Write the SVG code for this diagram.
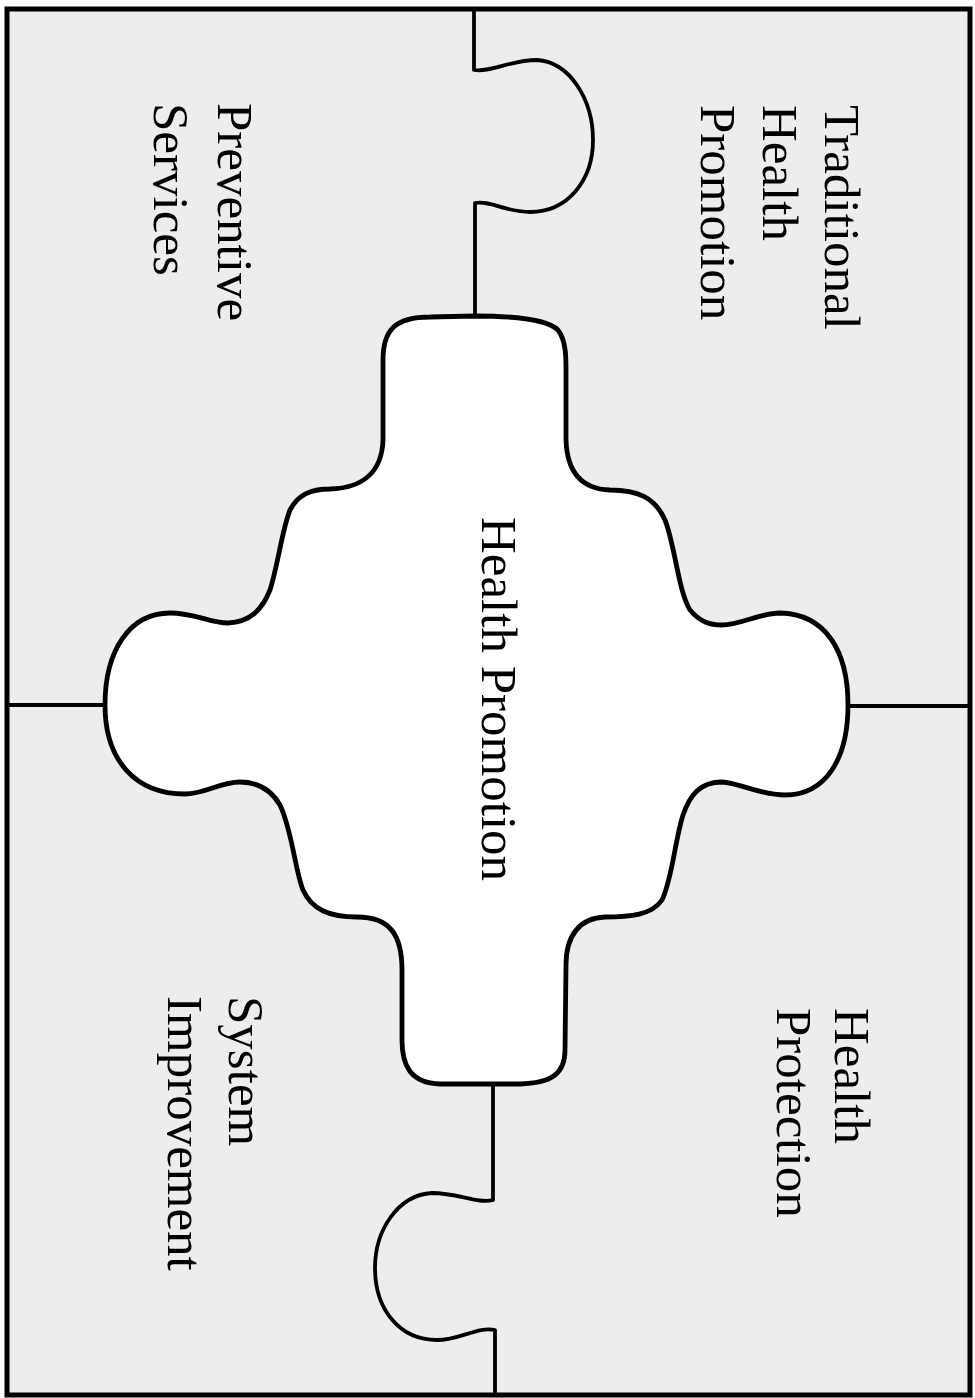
<svg xmlns="http://www.w3.org/2000/svg" width="975" height="1398" viewBox="0 0 975 1398">
  <defs>
    <style>
      .bg { fill: #ededed; }
      .border { fill: none; stroke: #000; stroke-width: 5; }
      .edge { fill: none; stroke: #000; stroke-width: 3.8; stroke-linejoin: round; stroke-linecap: round; }
      .center { fill: #ffffff; stroke: #000; stroke-width: 4.8; stroke-linejoin: round; }
      .lbl { font-family: "Liberation Serif", "Times New Roman", serif; font-size: 51px; fill: #000; }
    </style>
  </defs>

  <rect class="bg" x="7" y="9" width="963" height="1386"/>

  <g id="connectors">
    <path class="edge" d="M 474 9 L 474 70 C 490 73, 510 60, 537 60 C 570 62, 593 100, 593 140 C 593 180, 568 212, 530 212 C 505 212, 490 200, 475 203 L 475 316"/>
    <path class="edge" d="M 7 705 L 105 705"/>
    <path class="edge" d="M 848 706 L 970 706"/>
    <path class="edge" d="M 493 1084 L 493 1200 C 478 1204, 458 1193, 432 1193 C 398 1195, 375 1230, 375 1268 C 375 1310, 400 1340, 437 1340 C 460 1340, 478 1326, 495 1330 L 495 1395"/>
  </g>

  <g id="node-center">
    <path class="center" d="M 475 316
      C 520 316, 548 320, 558 330 C 567 342, 566 360, 566 380 L 566 440
      C 567 470, 580 489, 610 490 C 637 490, 655 497, 665 520
      C 675 545, 678 590, 690 610 C 700 622, 710 625, 722 625
      C 740 625, 760 613, 780 613 C 825 614, 848 650, 848 705
      C 848 760, 825 795, 785 795 C 760 795, 740 783, 722 782
      C 700 782, 690 795, 683 815 C 675 840, 672 880, 662 900
      C 652 915, 630 917, 605 917 C 580 918, 566 935, 566 965
      L 565 1050 C 565 1075, 550 1083, 520 1084 L 440 1084
      C 410 1083, 402 1065, 402 1040 L 402 970
      C 402 935, 390 917, 357 917 C 330 917, 312 910, 303 890
      C 295 870, 292 830, 280 805 C 270 788, 255 782, 240 782
      C 220 782, 205 794, 185 794 C 135 794, 105 760, 105 705
      C 105 650, 130 613, 170 613 C 195 613, 210 623, 228 623
      C 250 622, 262 610, 270 590 C 278 565, 282 530, 290 510
      C 298 495, 310 489, 330 489 C 365 488, 382 470, 383 440
      L 383 360 C 383 330, 395 317, 430 317 Z"/>
    <text class="lbl" transform="translate(482,517) rotate(90)">Health Promotion</text>
  </g>

  <g id="node-traditional">
    <text class="lbl" transform="translate(825,105) rotate(90)"><tspan x="0" y="0">Traditional</tspan><tspan x="0" dy="62">Health</tspan><tspan x="0" dy="62">Promotion</tspan></text>
  </g>

  <g id="node-preventive">
    <text class="lbl" transform="translate(218,103) rotate(90)"><tspan x="0" y="0">Preventive</tspan><tspan x="0" dy="64">Services</tspan></text>
  </g>

  <g id="node-protection">
    <text class="lbl" transform="translate(835,1008) rotate(90)"><tspan x="0" y="0">Health</tspan><tspan x="0" dy="58">Protection</tspan></text>
  </g>

  <g id="node-system">
    <text class="lbl" transform="translate(229,996) rotate(90)"><tspan x="0" y="0">System</tspan><tspan x="0" dy="61">Improvement</tspan></text>
  </g>

  <rect class="border" x="7" y="9" width="963" height="1386"/>
</svg>
